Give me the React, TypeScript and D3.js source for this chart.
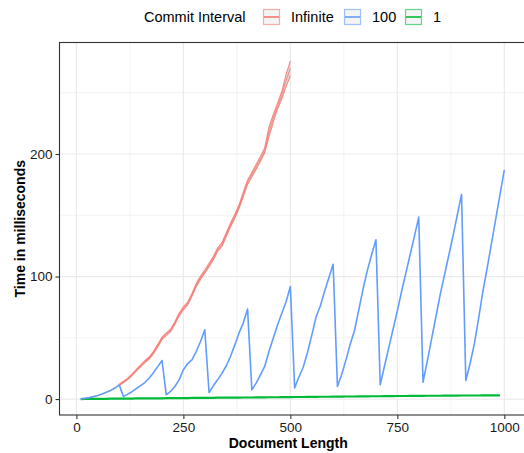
import React, { useEffect, useRef } from 'react'
import * as d3 from 'd3'

// x positions (document length) for each series
const infiniteX = [10, 20, 30, 40, 50, 60, 70, 80, 90, 100, 110, 120, 130, 140, 150, 160, 170, 180, 190, 200,
  210, 220, 230, 240, 250, 260, 270, 280, 290, 300, 310, 320, 330, 340, 350, 360, 370, 380, 390, 400,
  410, 420, 430, 440, 450, 460, 470, 480, 490, 500]
const infiniteMean = [0.2, 0.6, 1.2, 2.0, 3.0, 4.2, 5.5, 7.0, 9.0, 11.6, 14, 16.5, 19.8, 23.5, 27, 30.5, 33.5, 38, 43.5, 49.5,
  53, 56, 62, 69, 74, 78, 85, 93, 99, 104, 109.5, 115, 122, 126, 134, 142, 149, 157, 167, 177,
  183, 189.5, 196, 203, 218, 229, 239, 248, 260, 270]
const infiniteSpread = [0.2, 0.2, 0.3, 0.3, 0.3, 0.3, 0.4, 0.4, 0.4, 0.5, 0.5, 0.6, 0.6, 0.7, 0.7, 0.8, 0.8, 0.9, 0.9, 1.0,
  1.0, 1.0, 1.1, 1.1, 1.2, 1.2, 1.2, 1.3, 1.3, 1.3, 1.4, 1.4, 1.4, 1.5, 1.5, 1.5, 1.6, 1.6, 1.7, 1.8,
  1.8, 1.9, 2.0, 2.0, 4.0, 3.2, 2.2, 3.0, 5.0, 6.0]

const hundredX = [10, 20, 30, 40, 50, 60, 70, 80, 90, 100, 110, 120, 130, 140, 150, 160, 170, 180, 190, 200,
  210, 220, 230, 240, 250, 260, 270, 280, 290, 300, 310, 320, 330, 340, 350, 360, 370, 380, 390, 400,
  410, 420, 430, 440, 450, 460, 470, 480, 490, 500, 510, 520, 530, 540, 550, 560, 570, 580, 590, 600,
  610, 620, 630, 640, 650, 660, 670, 680, 690, 700, 710, 720, 730, 740, 750, 760, 770, 780, 790, 800,
  810, 820, 830, 840, 850, 860, 870, 880, 890, 900, 910, 920, 930, 940, 950, 960, 970, 980, 990, 1000]
const hundredMean = [0.2, 0.6, 1.2, 2.0, 3.0, 4.2, 5.5, 7.0, 9.0, 11.6,
  2.0, 4.0, 6.0, 8.5, 11, 13.5, 17, 21.5, 26.5, 31.5,
  3.5, 6.2, 10.3, 15.7, 23.9, 29, 32, 38.8, 47, 56.5,
  5.4, 10.8, 15.7, 21, 27, 34.7, 44, 54, 62, 73.5,
  7.5, 13, 19.8, 26.6, 38.8, 49.7, 60.5, 70, 79.5, 91.8,
  9, 18, 26, 38, 52, 67, 76, 88, 99, 110,
  10.3, 20, 32, 45, 56, 73, 90, 105, 118, 130,
  11.7, 27, 42, 57, 72, 88, 103, 118, 133, 148.5,
  13.8, 31, 49, 67, 85, 101, 117, 133, 150, 167,
  15.2, 29, 45, 66, 88, 107, 127, 147, 167, 187]

const oneX = [10, 20, 30, 40, 50, 60, 70, 80, 90, 100, 110, 120, 130, 140, 150, 160, 170, 180, 190, 200,
  210, 220, 230, 240, 250, 260, 270, 280, 290, 300, 310, 320, 330, 340, 350, 360, 370, 380, 390, 400,
  410, 420, 430, 440, 450, 460, 470, 480, 490, 500, 510, 520, 530, 540, 550, 560, 570, 580, 590, 600,
  610, 620, 630, 640, 650, 660, 670, 680, 690, 700, 710, 720, 730, 740, 750, 760, 770, 780, 790, 800,
  810, 820, 830, 840, 850, 860, 870, 880, 890, 900, 910, 920, 930, 940, 950, 960, 970, 980, 990]
const oneMean = [0.0, 0.1, 0.1, 0.1, 0.2, 0.2, 0.2, 0.3, 0.3, 0.3, 0.4, 0.4, 0.4, 0.5, 0.5, 0.5, 0.5, 0.6, 0.6, 0.6,
  0.7, 0.7, 0.7, 0.8, 0.8, 0.8, 0.9, 0.9, 0.9, 1.0, 1.0, 1.0, 1.1, 1.1, 1.1, 1.2, 1.2, 1.2, 1.3, 1.3,
  1.3, 1.4, 1.4, 1.4, 1.5, 1.5, 1.5, 1.6, 1.6, 1.6, 1.7, 1.7, 1.7, 1.8, 1.8, 1.8, 1.9, 1.9, 1.9, 2.0,
  2.0, 2.0, 2.1, 2.1, 2.1, 2.2, 2.2, 2.2, 2.3, 2.3, 2.3, 2.4, 2.4, 2.4, 2.5, 2.5, 2.5, 2.6, 2.6, 2.6,
  2.6, 2.7, 2.7, 2.7, 2.7, 2.8, 2.8, 2.8, 2.8, 2.9, 2.9, 2.9, 2.9, 2.9, 3.0, 3.0, 3.0, 3.0, 3.0]

const legendLabels = ['Infinite', '100', '1']
const legendColors = ['#F8766D', '#619CFF', '#00BA38']
const xTicks = [0, 250, 500, 750, 1000]
const xMinor = [125, 375, 625, 875]
const yTicks = [0, 100, 200]
const yMinor = [50, 150, 250]

const W = 524, H = 453
const FONT = '"Liberation Sans", Arial, Helvetica, sans-serif'

export default function App() {
  const ref = useRef<SVGSVGElement>(null)

  useEffect(() => {
    const svg = d3.select(ref.current)
    svg.selectAll('*').remove()

    const left = 59.5, right = 525.5, top = 42.5, bottom = 415
    const x = d3.scaleLinear().domain([-39.5, 1049.5]).range([left, right])
    const y = d3.scaleLinear().domain([-13, 291]).range([bottom, top])

    const g = svg.append('g')

    // grid
    g.selectAll('.xminor').data(xMinor).enter().append('line')
      .attr('x1', d => x(d)).attr('x2', d => x(d)).attr('y1', top).attr('y2', bottom)
      .attr('stroke', '#ebebeb').attr('stroke-width', 0.6)
    g.selectAll('.yminor').data(yMinor).enter().append('line')
      .attr('x1', left).attr('x2', right).attr('y1', d => y(d)).attr('y2', d => y(d))
      .attr('stroke', '#ebebeb').attr('stroke-width', 0.6)
    g.selectAll('.xmajor').data(xTicks).enter().append('line')
      .attr('x1', d => x(d)).attr('x2', d => x(d)).attr('y1', top).attr('y2', bottom)
      .attr('stroke', '#ebebeb').attr('stroke-width', 1.2)
    g.selectAll('.ymajor').data(yTicks).enter().append('line')
      .attr('x1', left).attr('x2', right).attr('y1', d => y(d)).attr('y2', d => y(d))
      .attr('stroke', '#ebebeb').attr('stroke-width', 1.2)

    const line = d3.line<[number, number]>().x(d => x(d[0])).y(d => y(d[1]))

    // series 1
    const oneData = oneX.map((v, i) => [v, oneMean[i]] as [number, number])
    g.append('path').attr('d', line(oneData)!).attr('fill', 'none')
      .attr('stroke', legendColors[2]).attr('stroke-width', 2.2)

    // series 100
    const hundredData = hundredX.map((v, i) => [v, hundredMean[i]] as [number, number])
    g.append('path').attr('d', line(hundredData)!).attr('fill', 'none')
      .attr('stroke', legendColors[1]).attr('stroke-width', 1.6).attr('stroke-linejoin', 'round')

    // series infinite with ribbon
    const area = d3.area<number>()
      .x((d, i) => x(infiniteX[i]))
      .y0((d, i) => y(infiniteMean[i] - infiniteSpread[i]))
      .y1((d, i) => y(infiniteMean[i] + infiniteSpread[i]))
    g.append('path').attr('d', area(infiniteMean)!)
      .attr('fill', '#999').attr('fill-opacity', 0.35)
    const lo = infiniteX.map((v, i) => [v, infiniteMean[i] - infiniteSpread[i]] as [number, number])
    const hi = infiniteX.map((v, i) => [v, infiniteMean[i] + infiniteSpread[i]] as [number, number])
    const mid = infiniteX.map((v, i) => [v, infiniteMean[i]] as [number, number])
    ;[lo, hi].forEach(d => {
      g.append('path').attr('d', line(d.slice(9))!).attr('fill', 'none')
        .attr('stroke', legendColors[0]).attr('stroke-width', 1.1).attr('stroke-opacity', 0.85)
    })
    g.append('path').attr('d', line(mid.slice(9))!).attr('fill', 'none')
      .attr('stroke', legendColors[0]).attr('stroke-width', 0.8)

    // panel border
    g.append('rect').attr('x', left).attr('y', top)
      .attr('width', right - left).attr('height', bottom - top)
      .attr('fill', 'none').attr('stroke', '#333').attr('stroke-width', 1.1)

    // axes
    const xAxis = g.append('g').attr('transform', `translate(0,${bottom})`)
      .call(d3.axisBottom(x).tickValues(xTicks).tickSize(4).tickPadding(3).tickFormat(d3.format('d')))
    xAxis.select('.domain').remove()
    const yAxis = g.append('g').attr('transform', `translate(${left},0)`)
      .call(d3.axisLeft(y).tickValues(yTicks).tickSize(4).tickPadding(3).tickFormat(d3.format('d')))
    yAxis.select('.domain').remove()
    ;[xAxis, yAxis].forEach(a => {
      a.selectAll('line').attr('stroke', '#333').attr('stroke-width', 1.1)
      a.selectAll('text').attr('fill', '#1a1a1a').style('font-family', FONT).style('font-size', '13.5px')
    })
    xAxis.selectAll('text').attr('dy', '0.72em')

    // axis titles
    svg.append('text').attr('x', (left + 517) / 2).attr('y', 448)
      .attr('text-anchor', 'middle').style('font-family', FONT).style('font-size', '14px')
      .style('font-weight', 'bold').text('Document Length')
    svg.append('text').attr('transform', `translate(25,${(top + bottom) / 2}) rotate(-90)`)
      .attr('text-anchor', 'middle').style('font-family', FONT).style('font-size', '14px')
      .style('font-weight', 'bold').text('Time in milliseconds')

    // legend
    const lg = svg.append('g')
    lg.append('text').attr('x', 144).attr('y', 22).style('font-family', FONT).style('font-size', '14.5px')
      .text('Commit Interval')
    const keyX = [263, 344, 405]
    legendLabels.forEach((lab, i) => {
      lg.append('rect').attr('x', keyX[i] + 0.5).attr('y', 9.5).attr('width', 16).attr('height', 15)
        .attr('fill', '#f4f4f4').attr('stroke', legendColors[i]).attr('stroke-opacity', 0.6).attr('stroke-width', 1.2)
      lg.append('line').attr('x1', keyX[i] + 1).attr('x2', keyX[i] + 16).attr('y1', 17).attr('y2', 17)
        .attr('stroke', legendColors[i]).attr('stroke-width', 1.6)
      lg.append('text').attr('x', keyX[i] + 28).attr('y', 22).style('font-family', FONT).style('font-size', '14.5px')
        .text(lab)
    })
  }, [])

  return (
    <svg ref={ref} width={W} height={H} style={{ position: 'absolute', left: 0, top: 0, background: '#fff' }}></svg>
  )
}
